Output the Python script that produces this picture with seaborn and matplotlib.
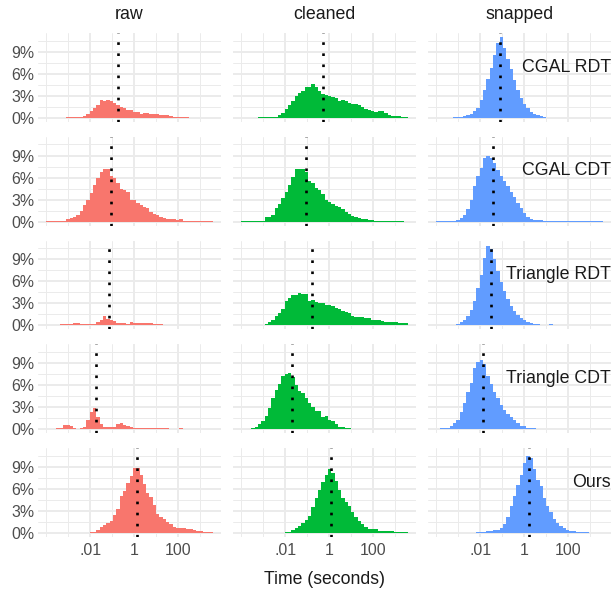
import numpy as np
import pandas as pd
import matplotlib
matplotlib.use("Agg")
import matplotlib.pyplot as plt
import seaborn as sns

sns.set_style("white")
plt.rcParams['font.family'] = ['Liberation Sans', 'DejaVu Sans']

# histogram data: percent of runs per log10(time) bin (50 bins from 1e-4 s)
bin_lo = -4.0
bin_w = 0.1516
n_bins = 50

stages = ['raw', 'cleaned', 'snapped']
methods = ['CGAL RDT', 'CGAL CDT', 'Triangle RDT', 'Triangle CDT', 'Ours']
colors = ['#F8766D', '#00BA38', '#619CFF']

raw_cgal_rdt = [0.03, 0.03, 0.03, 0.03, 0.03, 0.03, 0.10, 0.10, 0.10, 0.10,
                0.10, 0.30, 0.60, 0.90, 1.30, 1.80, 2.40, 2.30, 2.40, 2.30,
                2.00, 1.70, 1.50, 1.30, 1.10, 1.10, 0.80, 0.77, 0.60, 0.65,
                0.70, 0.60, 0.55, 0.55, 0.45, 0.40, 0.35, 0.20, 0.15, 0.15,
                0.15, 0.15, 0.10, 0.05, 0.05, 0.05, 0.05, 0.05, 0.05, 0.05]
raw_cgal_cdt = [0.03, 0.03, 0.03, 0.10, 0.10, 0.15, 0.30, 0.50, 0.70, 0.90,
                1.50, 2.30, 2.90, 3.90, 5.00, 5.90, 6.70, 7.10, 7.10, 6.20,
                5.90, 5.20, 4.50, 4.30, 4.00, 3.00, 2.90, 2.60, 2.30, 2.00,
                1.90, 1.30, 1.10, 0.90, 0.70, 0.50, 0.40, 0.30, 0.30, 0.20,
                0.30, 0.15, 0.15, 0.15, 0.10, 0.08, 0.08, 0.08, 0.05, 0.05]
raw_tri_rdt = [0.02, 0.02, 0.02, 0.02, 0.15, 0.15, 0.15, 0.15, 0.30, 0.40,
               0.20, 0.20, 0.20, 0.25, 0.25, 0.45, 0.80, 1.25, 0.90, 0.70,
               0.55, 0.40, 0.30, 0.30, 0.20, 0.45, 0.40, 0.30, 0.30, 0.30,
               0.30, 0.30, 0.15, 0.15, 0.15, 0.10, 0.10, 0.10, 0.10, 0.10,
               0.10, 0.10, 0.10, 0.10, 0.10, 0.10, 0.10, 0.10, 0.10, 0.10]
raw_tri_cdt = [0.02, 0.02, 0.05, 0.15, 0.10, 0.55, 0.55, 0.40, 0.20, 0.05,
               0.20, 0.35, 1.20, 2.40, 2.95, 1.70, 0.75, 0.35, 0.25, 0.25,
               0.30, 0.70, 0.85, 0.60, 0.45, 0.30, 0.20, 0.20, 0.20, 0.20,
               0.20, 0.10, 0.10, 0.10, 0.10, 0.10, 0.10, 0.05, 0.05, 0.05,
               0.10, 0.04, 0.04, 0.04, 0.04, 0.04, 0.04, 0.04, 0.04, 0.04]
raw_ours = [0.03, 0.03, 0.03, 0.03, 0.03, 0.03, 0.03, 0.03, 0.03, 0.03,
            0.03, 0.03, 0.03, 0.10, 0.10, 0.40, 0.80, 1.10, 1.30, 1.60,
            2.45, 3.20, 5.05, 5.70, 6.80, 7.80, 8.90, 8.90, 7.90, 6.70,
            5.50, 4.95, 3.80, 2.60, 2.20, 1.90, 1.55, 1.20, 0.85, 0.70,
            0.70, 0.70, 0.50, 0.50, 0.35, 0.20, 0.20, 0.13, 0.13, 0.13]

cleaned_cgal_rdt = [0.03, 0.03, 0.03, 0.03, 0.03, 0.07, 0.07, 0.07, 0.07, 0.15,
                    0.15, 0.40, 0.70, 1.15, 1.70, 2.30, 2.95, 3.40, 3.70, 4.20,
                    4.20, 4.55, 4.20, 3.70, 3.30, 3.10, 2.95, 2.80, 2.70, 2.35,
                    2.50, 2.35, 2.05, 1.95, 1.95, 1.70, 1.45, 1.20, 1.10, 1.00,
                    0.85, 0.90, 1.00, 0.70, 0.40, 0.32, 0.32, 0.20, 0.15, 0.15]
cleaned_cgal_cdt = [0.03, 0.03, 0.03, 0.05, 0.15, 0.15, 0.15, 0.60, 0.70, 0.95,
                    1.80, 2.45, 3.20, 4.10, 5.05, 6.05, 7.10, 7.10, 7.20, 6.70,
                    5.60, 5.30, 4.60, 4.30, 3.80, 2.90, 2.70, 2.45, 2.20, 2.00,
                    1.70, 1.30, 1.05, 0.80, 0.60, 0.45, 0.36, 0.36, 0.23, 0.23,
                    0.10, 0.12, 0.12, 0.12, 0.12, 0.05, 0.05, 0.05, 0.05, 0.02]
cleaned_tri_rdt = [0.03, 0.03, 0.03, 0.08, 0.08, 0.08, 0.08, 0.18, 0.50, 0.73,
                   1.27, 1.64, 2.20, 3.30, 3.80, 4.20, 4.20, 4.45, 4.30, 4.30,
                   3.30, 3.45, 3.20, 3.00, 3.00, 2.80, 2.80, 2.65, 2.40, 2.20,
                   1.90, 1.80, 1.65, 1.30, 1.20, 1.20, 1.10, 1.00, 1.00, 0.73,
                   0.73, 0.73, 0.64, 0.45, 0.45, 0.45, 0.45, 0.36, 0.27, 0.27]
cleaned_tri_cdt = [0.02, 0.02, 0.05, 0.13, 0.30, 0.70, 1.15, 1.80, 2.95, 4.30,
                   5.30, 6.10, 7.20, 7.50, 7.60, 7.10, 6.00, 5.20, 4.90, 4.20,
                   3.60, 3.05, 2.45, 2.45, 1.60, 1.80, 1.20, 1.05, 0.70, 0.36,
                   0.36, 0.23, 0.14, 0.05, 0.04, 0.04, 0.04, 0.04, 0.04, 0.04,
                   0.02, 0.02, 0.02, 0.02, 0.02, 0.02, 0.02, 0.02, 0.02, 0.02]
cleaned_ours = [0.03, 0.03, 0.03, 0.03, 0.03, 0.03, 0.03, 0.03, 0.03, 0.03,
                0.03, 0.03, 0.03, 0.10, 0.10, 0.40, 0.73, 1.00, 1.30, 1.80,
                2.30, 3.50, 4.70, 5.90, 6.90, 7.90, 8.70, 8.20, 7.10, 5.90,
                4.80, 4.20, 3.60, 2.80, 2.20, 1.60, 1.20, 0.86, 0.55, 0.50,
                0.50, 0.27, 0.27, 0.27, 0.27, 0.27, 0.14, 0.14, 0.14, 0.14]

snapped_cgal_rdt = [0.03, 0.03, 0.03, 0.03, 0.03, 0.10, 0.10, 0.10, 0.20, 0.35,
                    0.60, 0.90, 1.35, 2.50, 3.85, 5.35, 6.80, 8.50, 10.20, 11.00,
                    9.50, 7.95, 6.60, 5.20, 3.85, 2.70, 1.90, 1.35, 0.80, 0.55,
                    0.40, 0.27, 0.14, 0.03, 0.03, 0.03, 0.03, 0.03, 0.03, 0.03,
                    0.03, 0.03, 0.03, 0.03, 0.03, 0.03, 0.03, 0.03, 0.03, 0.03]
snapped_cgal_cdt = [0.03, 0.03, 0.03, 0.03, 0.10, 0.10, 0.20, 0.50, 0.95, 1.70,
                    3.00, 4.80, 6.20, 7.30, 8.60, 9.00, 8.70, 8.00, 7.00, 6.20,
                    5.50, 4.80, 4.10, 3.40, 2.60, 1.85, 1.20, 0.65, 0.36, 0.27,
                    0.18, 0.18, 0.10, 0.03, 0.03, 0.03, 0.03, 0.03, 0.03, 0.03,
                    0.03, 0.03, 0.03, 0.03, 0.03, 0.03, 0.03, 0.03, 0.03, 0.03]
snapped_tri_rdt = [0.03, 0.03, 0.03, 0.10, 0.10, 0.10, 0.23, 0.45, 0.80, 1.27,
                   2.05, 3.30, 5.10, 6.80, 9.20, 10.80, 10.40, 9.00, 7.40, 5.90,
                   4.70, 3.60, 2.60, 1.95, 1.36, 0.95, 0.68, 0.45, 0.27, 0.14,
                   0.14, 0.05, 0.05, 0.05, 0.14, 0.03, 0.03, 0.03, 0.03, 0.03,
                   0.03, 0.03, 0.03, 0.03, 0.03, 0.03, 0.03, 0.03, 0.03, 0.03]
snapped_tri_cdt = [0.03, 0.10, 0.10, 0.20, 0.45, 0.90, 1.20, 2.30, 3.60, 5.00,
                   6.30, 8.30, 9.20, 9.40, 8.80, 7.30, 6.10, 5.00, 4.20, 3.30,
                   2.60, 2.10, 1.60, 1.20, 0.90, 0.50, 0.40, 0.23, 0.10, 0.10,
                   0.03, 0.03, 0.03, 0.03, 0.03, 0.03, 0.03, 0.03, 0.03, 0.03,
                   0.03, 0.03, 0.03, 0.03, 0.03, 0.03, 0.03, 0.03, 0.03, 0.03]
snapped_ours = [0.03, 0.03, 0.03, 0.03, 0.03, 0.03, 0.03, 0.03, 0.03, 0.03,
                0.03, 0.03, 0.10, 0.10, 0.10, 0.23, 0.23, 0.40, 0.40, 0.65,
                1.20, 2.20, 3.60, 5.00, 6.50, 7.90, 9.50, 10.50, 10.20, 8.70,
                7.20, 6.40, 4.70, 3.60, 2.80, 1.90, 1.40, 0.95, 0.65, 0.45,
                0.27, 0.27, 0.14, 0.14, 0.14, 0.14, 0.03, 0.03, 0.03, 0.03]

# medians, log10(seconds), rows = methods
median_raw = [-0.75, -1.04, -1.14, -1.76, 0.14]
median_cleaned = [-0.30, -1.07, -0.76, -1.68, 0.07]
median_snapped = [-1.08, -1.43, -1.49, -1.86, 0.22]

hists = {
    'raw': [raw_cgal_rdt, raw_cgal_cdt, raw_tri_rdt, raw_tri_cdt, raw_ours],
    'cleaned': [cleaned_cgal_rdt, cleaned_cgal_cdt, cleaned_tri_rdt, cleaned_tri_cdt, cleaned_ours],
    'snapped': [snapped_cgal_rdt, snapped_cgal_cdt, snapped_tri_rdt, snapped_tri_cdt, snapped_ours],
}
medians = {'raw': median_raw, 'cleaned': median_cleaned, 'snapped': median_snapped}

edges = bin_lo + bin_w * np.arange(n_bins + 1)
centers = (edges[:-1] + edges[1:]) / 2

W, H = 613, 594
fig, axes = plt.subplots(5, 3, figsize=(W / 100, H / 100), dpi=100, sharex=True, sharey=True)
fig.subplots_adjust(left=38 / W, right=611 / W, top=1 - 33 / H, bottom=1 - 537 / H,
                    wspace=0.0656, hspace=0.166)

grid_c = '#EBEBEB'
for j, stage in enumerate(stages):
    for i, method in enumerate(methods):
        ax = axes[i, j]
        df = pd.DataFrame({'t': centers, 'pct': hists[stage][i]})
        sns.histplot(data=df, x='t', weights='pct', bins=list(edges), element='step',
                     fill=True, color=colors[j], alpha=1, linewidth=0, ax=ax)
        ax.axvline(medians[stage][i], color='black', linestyle=(0, (1, 3.2)), lw=1.9, zorder=5)
        ax.set_xlim(-4.385, 3.96)
        ax.set_ylim(-0.55, 11.55)
        ax.set_xticks([-2, 0, 2])
        ax.set_xticks([-4, -3, -1, 1, 3], minor=True)
        ax.set_yticks([0, 3, 6, 9])
        ax.set_yticks([1.5, 4.5, 7.5, 10.5], minor=True)
        ax.set_xticklabels(['.01', '1', '100'])
        ax.set_yticklabels(['0%', '3%', '6%', '9%'])
        ax.grid(which='major', color=grid_c, lw=1.4)
        ax.grid(which='minor', color=grid_c, lw=0.7)
        ax.set_axisbelow(True)
        ax.tick_params(which='both', length=0, labelsize=11.4, labelcolor='#4D4D4D')
        ax.tick_params(axis='x', pad=4.5)
        ax.tick_params(axis='y', pad=2.5)
        ax.set_xlabel('')
        ax.set_ylabel('')
        for s in ax.spines.values():
            s.set_visible(False)
        if i == 0:
            ax.text(0.5, 1.152, stage, transform=ax.transAxes, ha='center', va='baseline',
                    fontsize=12.8, color='#1A1A1A')
        if j == 2:
            ax.text(1.0, 6.9, method, transform=ax.get_yaxis_transform(), ha='right',
                    va='center', fontsize=12.8, color='#1A1A1A', zorder=6)

fig.text(324.5 / W, 1 - 584 / H, 'Time (seconds)', ha='center', va='baseline',
         fontsize=12.7, color='#1A1A1A')

fig.savefig('out.png', dpi=100, facecolor='white')
